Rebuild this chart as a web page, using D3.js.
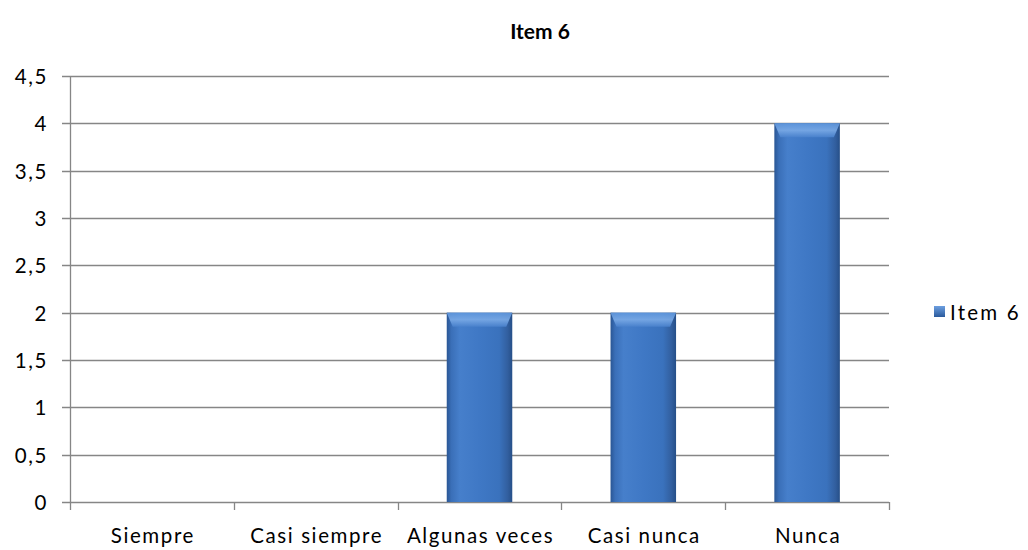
<!DOCTYPE html>
<html>
<head>
<meta charset="utf-8">
<script src="https://cdn.jsdelivr.net/npm/d3@7"></script>
<style>
  html, body { margin: 0; padding: 0; background: #fff; }
  svg { display: block; }
  text { font-family: Lato, "Open Sans", "Liberation Sans", sans-serif; fill: #000; }
  .lbl { font-size: 20.5px; letter-spacing: 1.6px; }
</style>
</head>
<body>
<svg id="chart" width="1028" height="550"></svg>
<script>
// Chart data
const categories = ["Siempre", "Casi siempre", "Algunas veces", "Casi nunca", "Nunca"];
const values = [0, 0, 2, 2, 4];
const seriesName = "Item 6";
const yTicks = [0, 0.5, 1, 1.5, 2, 2.5, 3, 3.5, 4, 4.5];
const yTickLabels = ["0", "0,5", "1", "1,5", "2", "2,5", "3", "3,5", "4", "4,5"];

const svg = d3.select("#chart");
const plot = { left: 70, right: 889, top: 76, bottom: 502 };

const x = d3.scaleBand().domain(categories).range([plot.left, plot.right]).paddingInner(0.6).paddingOuter(0.3);
const xBand = d3.scaleBand().domain(categories).range([plot.left, plot.right]);
const y = d3.scaleLinear().domain([0, 4.5]).range([plot.bottom, plot.top]);

// Gradients for the bevelled bars
const defs = svg.append("defs");
const hg = defs.append("linearGradient").attr("id", "barH").attr("x1", 0).attr("x2", 1).attr("y1", 0).attr("y2", 0);
[[0, "#2a5694"], [0.07, "#3a6fb8"], [0.2, "#467fcb"], [0.5, "#3f78c5"], [0.8, "#3a72bd"], [0.93, "#325f9f"], [1, "#264f88"]]
  .forEach(([o, c]) => hg.append("stop").attr("offset", o).attr("stop-color", c));
const tg = defs.append("linearGradient").attr("id", "barTop").attr("x1", 0).attr("x2", 0).attr("y1", 0).attr("y2", 1);
[[0, "#5e96dc"], [0.5, "#7aaae6"], [1, "#4a82cd"]]
  .forEach(([o, c]) => tg.append("stop").attr("offset", o).attr("stop-color", c));
const lg = defs.append("linearGradient").attr("id", "legendSq").attr("x1", 0).attr("x2", 0).attr("y1", 0).attr("y2", 1);
[[0, "#6d9fe0"], [1, "#2a5a9c"]].forEach(([o, c]) => lg.append("stop").attr("offset", o).attr("stop-color", c));

// Horizontal gridlines with left tick marks
svg.append("g").selectAll("line").data(yTicks).join("line")
  .attr("x1", plot.left - 8).attr("x2", plot.right)
  .attr("y1", d => Math.round(y(d)) + 0.5).attr("y2", d => Math.round(y(d)) + 0.5)
  .attr("stroke", "#868686").attr("stroke-width", 1.3);

// Y axis line
svg.append("line")
  .attr("x1", plot.left + 0.5).attr("x2", plot.left + 0.5)
  .attr("y1", plot.top).attr("y2", plot.bottom)
  .attr("stroke", "#868686").attr("stroke-width", 1.3);

// Category separators on the x axis
const sepX = categories.map(c => xBand(c)).concat([plot.right]);
svg.append("g").selectAll("line").data(sepX).join("line")
  .attr("x1", d => Math.round(d) + 0.5).attr("x2", d => Math.round(d) + 0.5)
  .attr("y1", plot.bottom).attr("y2", plot.bottom + 8)
  .attr("stroke", "#868686").attr("stroke-width", 1.3);

// Y tick labels
svg.append("g").selectAll("text").data(yTicks).join("text")
  .attr("class", "lbl")
  .attr("x", 48).attr("y", d => y(d))
  .attr("text-anchor", "end").attr("dominant-baseline", "central")
  .text((d, i) => yTickLabels[i]);

// Bars
const bars = svg.append("g").selectAll("g").data(categories.map((c, i) => ({ c, v: values[i] })).filter(d => d.v > 0)).join("g");
bars.append("rect")
  .attr("x", d => x(d.c)).attr("width", x.bandwidth())
  .attr("y", d => y(d.v)).attr("height", d => y(0) - y(d.v))
  .attr("fill", "url(#barH)");
bars.append("path")
  .attr("d", d => {
    const x0 = x(d.c), x1 = x0 + x.bandwidth(), t = y(d.v), b = 6, h = 14;
    return `M${x0},${t} L${x1},${t} L${x1 - b},${t + h} L${x0 + b},${t + h} Z`;
  })
  .attr("fill", "url(#barTop)").attr("opacity", 0.9);

// Category labels
svg.append("g").selectAll("text").data(categories).join("text")
  .attr("class", "lbl")
  .attr("x", d => xBand(d) + xBand.bandwidth() / 2 + 1).attr("y", 535)
  .attr("text-anchor", "middle").attr("dominant-baseline", "central")
  .text(d => d);

// Title
svg.append("text")
  .attr("x", 540).attr("y", 30)
  .attr("text-anchor", "middle").attr("dominant-baseline", "central")
  .style("font-size", "21px").style("font-weight", "bold")
  .text(seriesName);

// Legend
svg.append("rect").attr("x", 934).attr("y", 306).attr("width", 11).attr("height", 11)
  .attr("fill", "url(#legendSq)");
svg.append("text").attr("class", "lbl").attr("x", 950).attr("y", 312)
  .attr("dominant-baseline", "central").style("letter-spacing", "2.2px")
  .text(seriesName);
</script>
</body>
</html>
